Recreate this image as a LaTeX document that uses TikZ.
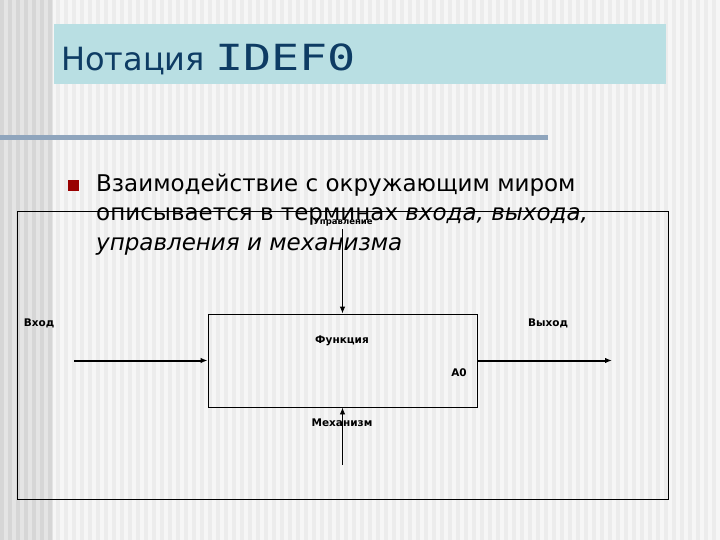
\documentclass[tikz,border=0pt]{standalone}
\usepackage{fontspec}
\setmainfont{DejaVu Sans}
\newfontfamily\lblfont{DejaVu Sans}
\newfontfamily\ttlmono{DejaVu Sans Mono}
\usepackage{graphicx}
\usepackage{xcolor}
\usetikzlibrary{positioning,arrows.meta}
\definecolor{bgA}{HTML}{F6F6F6}
\definecolor{bgB}{HTML}{ECECEC}
\definecolor{bandA}{HTML}{E4E4E4}
\definecolor{bandB}{HTML}{D6D6D6}
\definecolor{ttlfill}{HTML}{B9DFE3}
\definecolor{ttltext}{HTML}{0E3C64}
\definecolor{rule}{HTML}{8FA5BD}
\definecolor{bul}{HTML}{990000}
\tikzset{
  fn/.style={draw,line width=0.9pt,minimum width=269pt,minimum height=93pt,inner sep=0pt},
  lbl/.style={font=\lblfont\bfseries\fontsize{10.5}{12}\selectfont,inner sep=0pt},
  io/.style={-{Latex[length=7pt,width=5.5pt]},line width=2pt},
  thinarr/.style={-{Latex[length=7pt,width=5.5pt]},line width=0.9pt},
  txt/.style={anchor=base west,inner sep=0pt,font=\fontsize{23}{27}\selectfont},
}
\begin{document}
\begin{tikzpicture}[x=1pt,y=-1pt]
\useasboundingbox (0,0) rectangle (720,540);
% background stripes
\fill[bgA] (0,0) rectangle (720,540);
\foreach \sx in {0,8,...,712} \fill[bgB] (\sx,0) rectangle ++(4,540);
\fill[bandA] (0,0) rectangle (53,540);
\foreach \sx in {0,8,...,48} \fill[bandB] (\sx,0) rectangle ++(4,540);
% title
\fill[ttlfill] (54,24) rectangle (666,84);
\node[anchor=base west,inner sep=0pt,text=ttltext] (ttl) at (61,71)
  {\fontsize{32}{36}\selectfont Нотация \ttlmono\fontsize{36}{42}\selectfont\scalebox{1.3}[1]{IDEF0}};
\fill[rule] (0,135) rectangle (548,140);
% bullet text
\fill[bul] (68,180) rectangle (79,191);
\node[txt] (l1) at (96,192) {Взаимодействие с окружающим миром};
\node[txt] (l2) at (96,221) {описывается в терминах \textit{входа, выхода,}};
\node[txt] (l3) at (96,250) {\textit{управления и механизма}};
% diagram frame
\draw[line width=0.9pt] (17,211) rectangle (668,499);
\node[fn] (func) at (342.5,360.5) {};
\node[lbl] (fname) at (342,341) {Функция};
\node[lbl] (num) at (459,373) {A0};
\node[lbl] (inl) at (39,323) {Вход};
\node[lbl] (outl) at (548,323) {Выход};
\node[lbl,font=\lblfont\bfseries\fontsize{8.5}{10}\selectfont] (ctll) at (343,222) {Управление};
\node[lbl] (mechl) at (342,423) {Механизм};
\coordinate (inS) at (74,360.5);
\coordinate (outE) at (612,360.5);
\coordinate (ctlS) at (342.5,229);
\coordinate (mechS) at (342.5,465);
% arrows
\draw[io] (inS) -- (func.west);
\draw[io] (func.east) -- (outE);
\draw[thinarr] (ctlS) -- (func.north);
\draw[thinarr] (mechS) -- (func.south);
\end{tikzpicture}
\end{document}
